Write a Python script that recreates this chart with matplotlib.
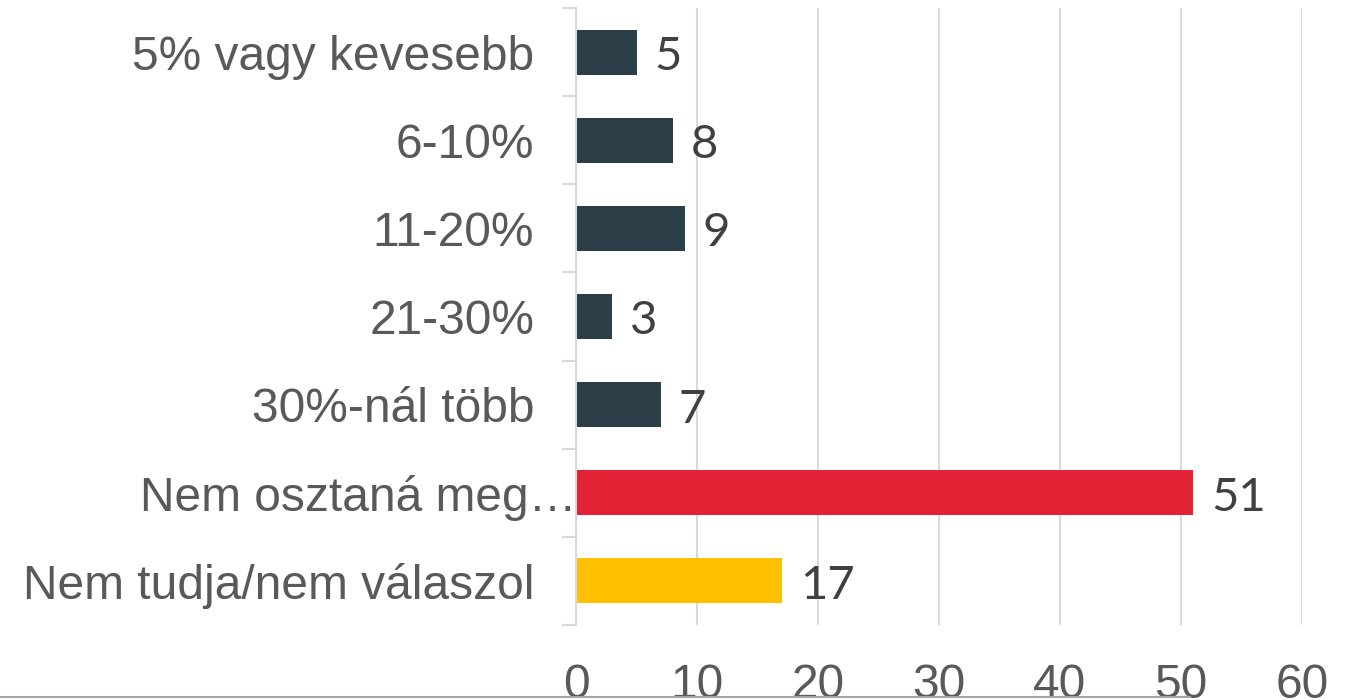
import matplotlib
matplotlib.use("Agg")
import matplotlib.pyplot as plt
import matplotlib.transforms as mtransforms
from matplotlib.lines import Line2D
import numpy as np

categories = ["5% vagy kevesebb", "6-10%", "11-20%", "21-30%", "30%-nál több",
              "Nem osztaná meg…", "Nem tudja/nem válaszol"]
values = [5, 8, 9, 3, 7, 51, 17]
bar_colors = ["#2C3E48", "#2C3E48", "#2C3E48", "#2C3E48", "#2C3E48", "#E32236", "#FFC000"]
x_ticks = [0, 10, 20, 30, 40, 50, 60]

fig = plt.figure(figsize=(13.58, 7.0), dpi=100)
ax = fig.add_axes([576/1358, 1 - 625/700, (1302 - 576)/1358, (625 - 8)/700])

y = np.arange(len(categories))
bars = ax.barh(y, values, height=0.51, color=bar_colors, zorder=3)
ax.set_ylim(len(categories) - 0.5, -0.5)
ax.set_xlim(0, 60)

ax.set_xticks(x_ticks)
ax.set_xticklabels([str(t) for t in x_ticks], fontsize=34.5, color="#595959",
                   fontfamily="Liberation Sans")
ax.tick_params(axis="x", length=0, pad=27)

ax.set_yticks(y)
ax.set_yticklabels(categories, fontsize=34.5, color="#595959", fontfamily="Liberation Sans")
ax.tick_params(axis="y", which="major", length=0, pad=30)
ax.set_yticks(np.arange(-0.5, len(categories), 1.0), minor=True)
ax.tick_params(axis="y", which="minor", length=10, width=1.5, color="#D9D9D9")

# the truncated label overflows to the spine in the original
lbl = ax.get_yticklabels()[5]
lbl.set_transform(lbl.get_transform() + mtransforms.ScaledTranslation(42/100, 0, fig.dpi_scale_trans))

ax.grid(axis="x", color="#D9D9D9", linewidth=1.5, zorder=0)
for s in ["top", "right", "bottom"]:
    ax.spines[s].set_visible(False)
ax.spines["left"].set_color("#D9D9D9")
ax.spines["left"].set_linewidth(1.5)
ax.spines["left"].set_zorder(4)

for b, v in zip(bars, values):
    ax.annotate(str(v), xy=(v, b.get_y() + b.get_height() / 2), xytext=(13, -3.5),
                textcoords="offset points", va="center", ha="left",
                fontsize=34, color="#404040", fontfamily="Lato")

fig.add_artist(Line2D([0, 1190/1358], [1 - 697/700, 1 - 697/700],
                      transform=fig.transFigure, color="#A6A6A6", linewidth=1.5))

fig.savefig("out.png", dpi=100)
